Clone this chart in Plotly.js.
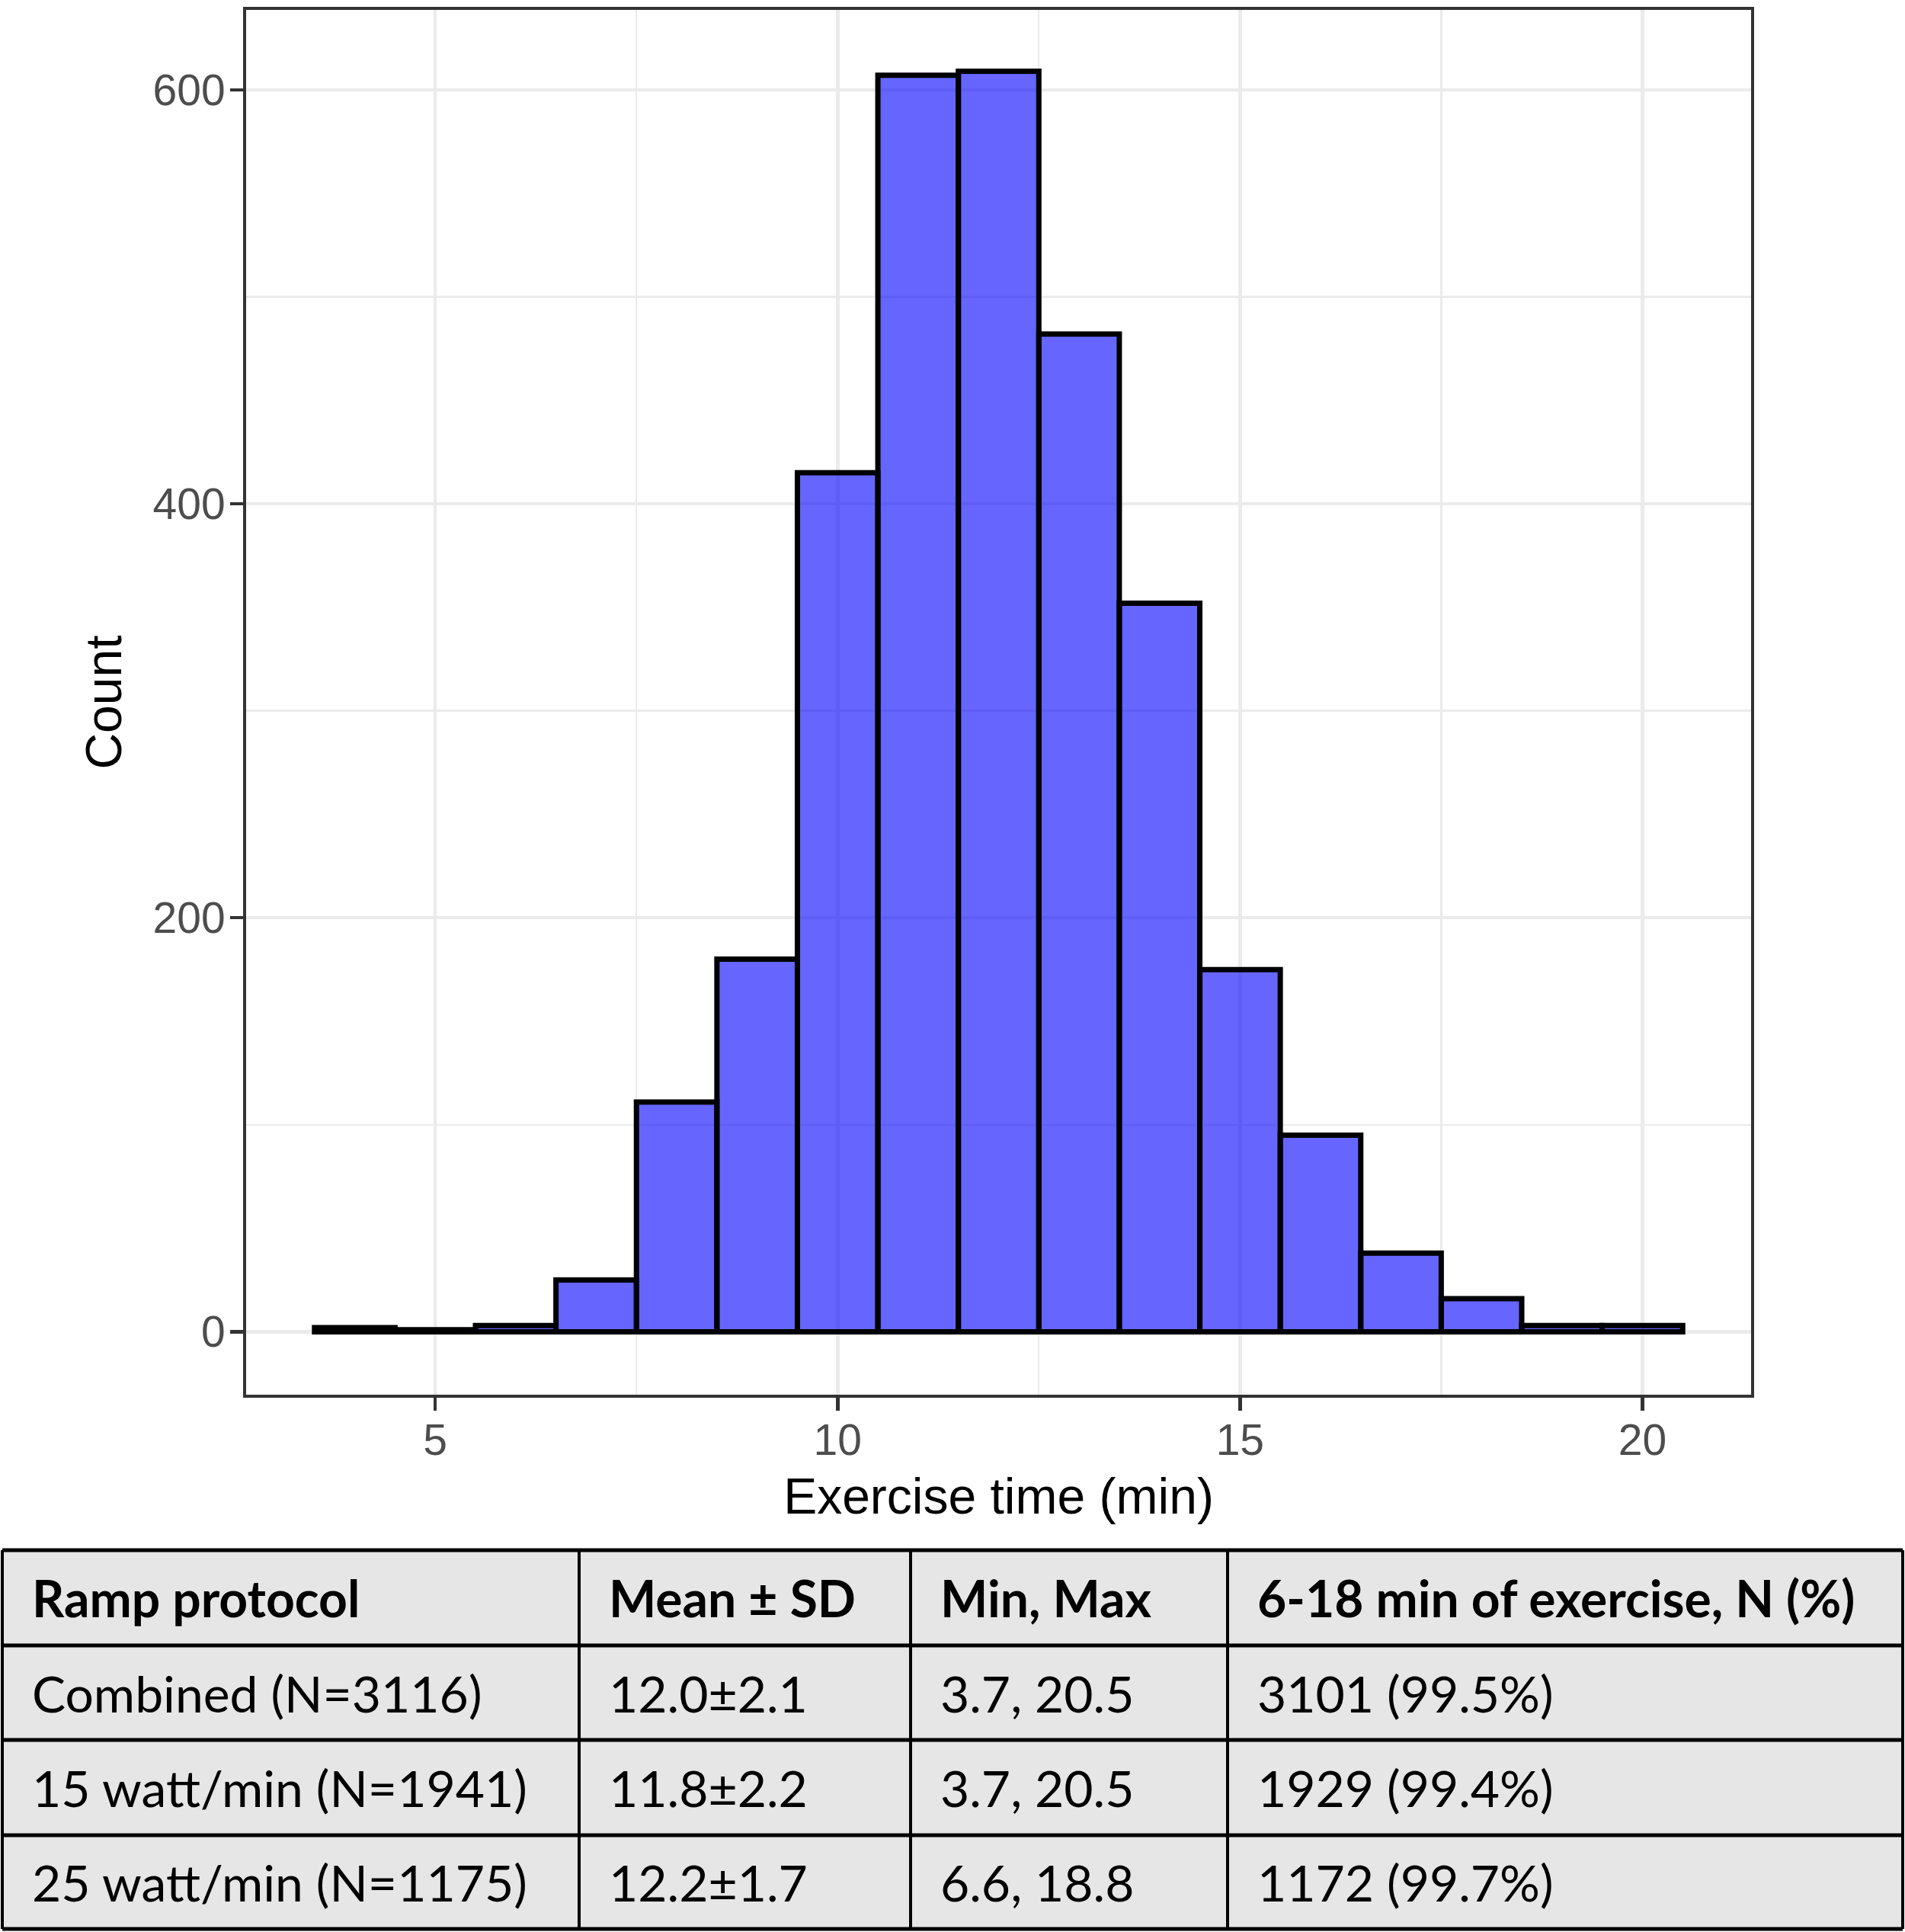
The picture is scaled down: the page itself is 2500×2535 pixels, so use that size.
<!DOCTYPE html>
<html><head><meta charset="utf-8">
<script src="https://cdn.plot.ly/plotly-3.0.1.min.js"></script>
<style>body{margin:0;background:#fff}</style>
</head><body><div id="chart" style="width:2500px;height:2535px"></div>
<script>
// ---- data ----
const binCenters = [4,5,6,7,8,9,10,11,12,13,14,15,16,17,18,19,20];
const binCounts  = [2,1,3,25,111,180,415,607,609,482,352,175,95,38,16,3,3];
const xTickVals = [5,10,15,20];
const yTickVals = [0,200,400,600];
const xTitle = 'Exercise time (min)';
const yTitle = 'Count';
const tableHeader = ['Ramp protocol','Mean ± SD','Min, Max','6-18 min of exercise, N (%)'];
const colProtocol = ['Combined (N=3116)','15 watt/min (N=1941)','25 watt/min (N=1175)'];
const colMeanSD   = ['12.0±2.1','11.8±2.2','12.2±1.7'];
const colMinMax   = ['3.7, 20.5','3.7, 20.5','6.6, 18.8'];
const colInRange  = ['3101 (99.5%)','1929 (99.4%)','1172 (99.7%)'];

// ---- geometry ----
const W = 2500, H = 2535;
const px = v => v / W;
const py = v => 1 - v / H;
const colEdges = [3, 760, 1195, 1611, 2497];
const rowEdges = [2034, 2159, 2283, 2408, 2531];
const cellPad = 37;
const tableFont = 'Lato, "Noto Sans", sans-serif';
const tableSize = 66;

const shapes = [];
shapes.push({type:'rect', xref:'paper', yref:'paper', x0:px(colEdges[0]), x1:px(colEdges[4]),
  y0:py(rowEdges[0]), y1:py(rowEdges[4]), fillcolor:'#E6E6E6', line:{width:0}, layer:'below'});
rowEdges.forEach(r => shapes.push({type:'line', xref:'paper', yref:'paper', x0:px(colEdges[0]), x1:px(colEdges[4]),
  y0:py(r), y1:py(r), line:{color:'#000', width:5}}));
colEdges.forEach(c => shapes.push({type:'line', xref:'paper', yref:'paper', x0:px(c), x1:px(c),
  y0:py(rowEdges[0]), y1:py(rowEdges[4]), line:{color:'#000', width:4}}));

const annotations = [];
const columns = [colProtocol, colMeanSD, colMinMax, colInRange];
tableHeader.forEach((t, ci) => annotations.push({xref:'paper', yref:'paper', x:px(colEdges[ci]+cellPad),
  y:py((rowEdges[0]+rowEdges[1])/2), text:t, showarrow:false, xanchor:'left', yanchor:'middle',
  font:{family:tableFont, size:tableSize, color:'#000', weight:'bold'}}));
columns.forEach((col, ci) => col.forEach((t, ri) => annotations.push({xref:'paper', yref:'paper',
  x:px(colEdges[ci]+cellPad), y:py((rowEdges[ri+1]+rowEdges[ri+2])/2), text:t, showarrow:false,
  xanchor:'left', yanchor:'middle', font:{family:tableFont, size:tableSize, color:'#000'}})));

const axisFont = '"Liberation Sans", Arial, Helvetica, sans-serif';
const trace = {
  type:'bar', x:binCenters, y:binCounts, width:1,
  marker:{color:'rgba(0,0,255,0.6)', line:{color:'#000', width:7}},
  hoverinfo:'x+y'
};

const layout = {
  width:W, height:H, autosize:false,
  margin:{l:0, r:0, t:0, b:0},
  paper_bgcolor:'#fff', plot_bgcolor:'#fff',
  showlegend:false, bargap:0,
  xaxis:{domain:[px(323), px(2298)], range:[2.65, 21.35], tickvals:xTickVals, ticktext:xTickVals.map(String),
    showgrid:true, gridcolor:'#EBEBEB', gridwidth:4.5, zeroline:false,
    minor:{tickvals:[7.5,12.5,17.5], showgrid:true, gridcolor:'#EBEBEB', gridwidth:2.3, ticks:''},
    showline:true, mirror:true, linecolor:'#333333', linewidth:4,
    ticks:'outside', ticklen:17, tickwidth:4.5, tickcolor:'#333333', ticklabelstandoff:-10,
    tickfont:{family:axisFont, size:57, color:'#4D4D4D'},
    title:{text:xTitle, font:{family:axisFont, size:66, color:'#000'}, standoff:20},
    automargin:false},
  yaxis:{domain:[py(1830), py(13)], range:[-30.4, 638.6], tickvals:yTickVals, ticktext:yTickVals.map(String),
    showgrid:true, gridcolor:'#EBEBEB', gridwidth:4.5, zeroline:false,
    minor:{tickvals:[100,300,500], showgrid:true, gridcolor:'#EBEBEB', gridwidth:2.3, ticks:''},
    showline:true, mirror:true, linecolor:'#333333', linewidth:4,
    ticks:'outside', ticklen:17, tickwidth:4.5, tickcolor:'#333333', ticklabelstandoff:-5,
    tickfont:{family:axisFont, size:57, color:'#4D4D4D'},
    title:{text:yTitle, font:{family:axisFont, size:66, color:'#000'}, standoff:20},
    automargin:false},
  shapes:shapes,
  annotations:annotations
};

Plotly.newPlot('chart', [trace], layout, {displayModeBar:false, staticPlot:true});
</script>
</body></html>
